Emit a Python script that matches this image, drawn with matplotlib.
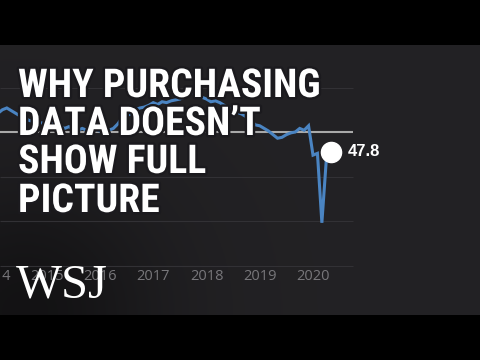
import matplotlib
matplotlib.use("Agg")
import matplotlib.pyplot as plt
import matplotlib.patheffects as pe
from matplotlib import font_manager
import numpy as np

# monthly index readings, Feb 2014 .. Jun 2020
pmi = [52.1, 52.5, 52.7, 52.4, 52.1, 51.8, 51.6, 51.3, 51.2, 51.1, 51.0, 51.1,
       50.9, 50.8, 50.7, 50.4, 50.6, 50.3, 50.2, 50.4, 50.2, 50.6, 50.3, 50.1,
       50.0, 50.2, 50.4, 50.9, 51.6, 51.8, 52.1, 52.5, 52.7, 52.8, 53.0, 53.3,
       53.1, 53.4, 53.3, 53.5, 53.6, 53.7, 53.9, 54.2, 54.5, 54.2, 53.9, 53.7,
       53.4, 53.5, 53.3, 53.0, 52.7, 52.5, 52.2, 52.0, 51.7, 51.3, 50.8, 50.7,
       50.4, 50.1, 49.7, 49.3, 49.4, 49.7, 49.9, 50.0, 50.4, 50.2, 50.7, 47.4,
       47.6, 39.8, 46.9, 47.8]
start_year = 2014 + 1 / 12
years = [2014, 2015, 2016, 2017, 2018, 2019, 2020]
grid_vals = [35, 40, 45, 55]
ref_val = 50
title_lines = ["WHY PURCHASING", "DATA DOESN\u2019T", "SHOW FULL", "PICTURE"]
last_label = "47.8"

months = start_year + np.arange(len(pmi)) / 12

W, H = 480, 360


def px_year(px):
    return 2020 + (px - 313) / 53.25


def px_val(py):
    return 50 - (py - 132) / 8.9


def weight_num(w):
    if isinstance(w, int):
        return w
    return {"bold": 700, "normal": 400, "regular": 400}.get(str(w).lower(), 400)


def find_narrow_bold():
    prefs = ["Roboto Condensed", "Liberation Sans Narrow", "Open Sans Condensed",
             "Noto Sans Display", "Noto Sans", "DejaVu Sans"]
    found = {}
    for f in font_manager.fontManager.ttflist:
        narrow = ("Condensed" in f.name or "Narrow" in f.name
                  or f.stretch in ("condensed", "semi-condensed", "extra-condensed"))
        if not narrow or f.style != "normal" or weight_num(f.weight) < 600:
            continue
        if "Serif" in f.name or "Mono" in f.name:
            continue
        for p in prefs:
            if f.name.startswith(p) and p not in found:
                found[p] = f.fname
    for p in prefs:
        if p in found:
            return found[p]
    return None


fname = find_narrow_bold()
if fname:
    title_fp = font_manager.FontProperties(fname=fname)
else:
    title_fp = font_manager.FontProperties(family="Liberation Sans", weight="bold")

fig = plt.figure(figsize=(4.8, 3.6), dpi=100, facecolor="black")
ax = fig.add_axes([0, 45 / H, 1, 270 / H])
ax.set_xlim(px_year(0), px_year(W))
ax.set_ylim(px_val(315), px_val(45))
ax.axis("off")

# background gradient, darker towards bottom-left
gx, gy = np.meshgrid(np.linspace(0, 1, 200), np.linspace(0, 1, 120))
shade = 0.135 - 0.06 * np.exp(-((gx - 0.05) ** 2 / 0.08 + (gy - 0.0) ** 2 / 0.25))
bg = np.dstack([shade, shade * 0.97, shade * 1.05])
ax.imshow(bg, extent=[px_year(0), px_year(W), px_val(315), px_val(45)],
          origin="lower", aspect="auto", zorder=0)

ax.hlines(grid_vals, px_year(0), px_year(353), color="#323135", lw=0.8, zorder=1)
ax.hlines(ref_val, px_year(0), px_year(353), color="#a9a9a9", lw=1.5, zorder=2)

ax.plot(months, pmi, color="#4a84c2", lw=2.2, zorder=3, solid_joinstyle="miter")
ax.plot(months[-1], pmi[-1], "o", color="white", ms=14.5, zorder=4)
ax.annotate(last_label, (months[-1], pmi[-1]), xytext=(12, 0),
            textcoords="offset points", va="center", ha="left",
            color="white", fontsize=12, fontweight="bold",
            family="Liberation Sans", zorder=5)

for y in years:
    ax.text(y, px_val(277), str(y), ha="center", va="center",
            color="#78777b", fontsize=10.5, family="Open Sans", zorder=2)

# title, sized so the first line spans about 300 px
renderer = fig.canvas.get_renderer()
size = 30
t = fig.text(0, 0, title_lines[0], fontproperties=title_fp, fontsize=size)
wpx = t.get_window_extent(renderer).width
t.remove()
if wpx > 302:
    size = size * 302 / wpx

baselines = [97, 135, 173, 212]
for line, b in zip(title_lines, baselines):
    fig.text(18 / W, 1 - b / H, line, fontproperties=title_fp, fontsize=size,
             color="white", va="baseline", ha="left", zorder=10,
             path_effects=[pe.withStroke(linewidth=3.5, foreground="#1b1a1e")])

fig.text(16 / W, 1 - 297 / H, "WSJ", family="Liberation Serif", fontsize=35,
         color="white", va="baseline", ha="left", zorder=10)

fig.savefig("out.png", dpi=100, facecolor="black")
